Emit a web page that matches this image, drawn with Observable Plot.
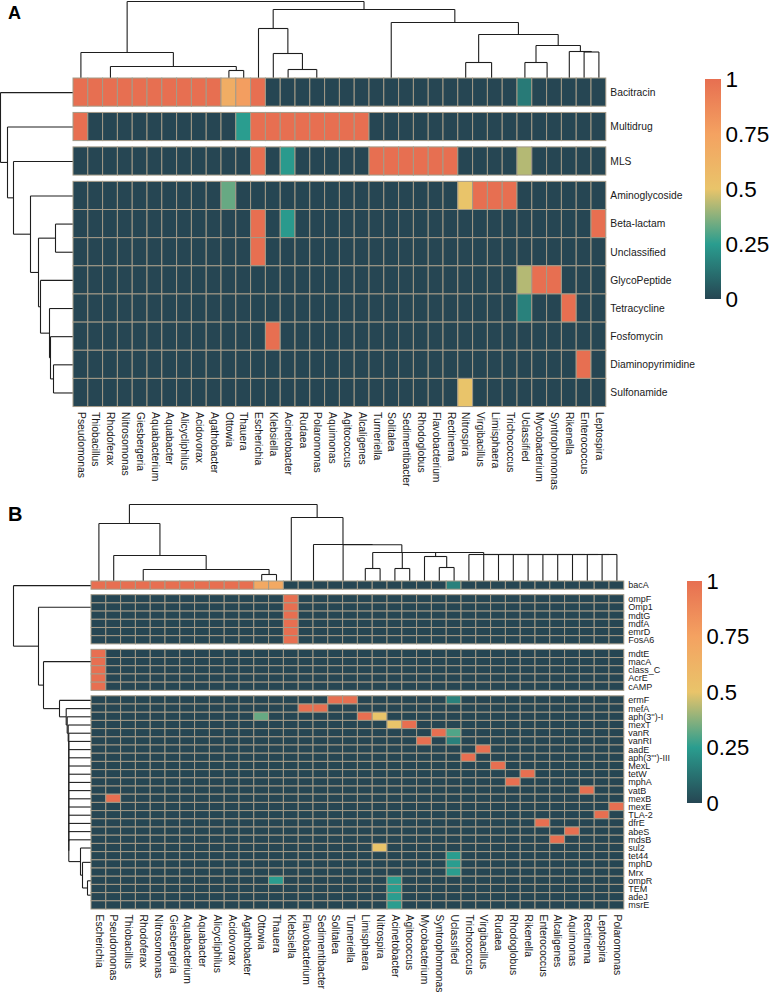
<!DOCTYPE html>
<html><head><meta charset="utf-8">
<script src="https://cdn.jsdelivr.net/npm/d3@7"></script>
<script src="https://cdn.jsdelivr.net/npm/@observablehq/plot@0.6"></script>
<style>
html,body{margin:0;padding:0;background:#fff;}
#fig{position:relative;width:769px;height:993px;overflow:hidden;font-family:"Liberation Sans",Arial,sans-serif;}
#fig svg{position:absolute;left:0;overflow:visible;}
.tag{position:absolute;left:8px;font-weight:bold;line-height:1;font-family:"Liberation Sans",Arial,sans-serif;}
</style></head><body>
<div id="fig"><div class="tag" style="top:4px;font-size:18px">A</div><div class="tag" style="top:504px;font-size:20px">B</div></div>
<script>
// ---------------- DATA: panel A ----------------
const colsA = ["Pseudomonas","Thiobacillus","Rhodoferax","Nitrosomonas","Giesbergeria","Aquabacterium","Aquabacter","Alicycliphilus","Acidovorax","Agathobacter","Ottowia","Thauera","Escherichia","Klebsiella","Acinetobacter","Rudaea","Polaromonas","Aquimonas","Agitococcus","Alcaligenes","Turneriella","Solitalea","Sedimentibacter","Rhodoglobus","Flavobacterium","Rectinema","Nitrospira","Virgibacillus","Limisphaera","Trichococcus","Uclassified","Mycobacterium","Syntrophomonas","Rikenella","Enterococcus","Leptospira"];
const rowsA = ["Bacitracin","Multidrug","MLS","Aminoglycoside","Beta-lactam","Unclassified","GlycoPeptide","Tetracycline","Fosfomycin","Diaminopyrimidine","Sulfonamide"];
const rowGroupSizesA = [1,1,1,8];
// [row, columns, value]; every other cell is 0
const hitsA = [
  ["Bacitracin", ["Pseudomonas","Thiobacillus","Rhodoferax","Nitrosomonas","Giesbergeria","Aquabacterium","Aquabacter","Alicycliphilus","Acidovorax","Agathobacter","Escherichia"], 1],
  ["Bacitracin", ["Ottowia"], 0.67],
  ["Bacitracin", ["Thauera"], 0.77],
  ["Bacitracin", ["Uclassified"], 0.15],
  ["Multidrug", ["Pseudomonas","Escherichia","Klebsiella","Acinetobacter","Rudaea","Polaromonas","Aquimonas","Agitococcus","Alcaligenes"], 1],
  ["Multidrug", ["Thauera"], 0.25],
  ["MLS", ["Escherichia","Turneriella","Solitalea","Sedimentibacter","Rhodoglobus","Flavobacterium","Rectinema"], 1],
  ["MLS", ["Acinetobacter"], 0.24],
  ["MLS", ["Uclassified"], 0.43],
  ["Aminoglycoside", ["Virgibacillus","Limisphaera","Trichococcus"], 1],
  ["Aminoglycoside", ["Ottowia"], 0.33],
  ["Aminoglycoside", ["Nitrospira"], 0.5],
  ["Beta-lactam", ["Escherichia","Leptospira"], 1],
  ["Beta-lactam", ["Acinetobacter"], 0.24],
  ["Unclassified", ["Escherichia"], 1],
  ["GlycoPeptide", ["Mycobacterium","Syntrophomonas"], 1],
  ["GlycoPeptide", ["Uclassified"], 0.43],
  ["Tetracycline", ["Rikenella"], 1],
  ["Tetracycline", ["Uclassified"], 0.17],
  ["Fosfomycin", ["Klebsiella"], 1],
  ["Diaminopyrimidine", ["Enterococcus"], 1],
  ["Sulfonamide", ["Nitrospira"], 0.5]
];
// dendrograms: [height, left, right]; leaves are names
const nest = (h, ...items) => items.reduceRight((acc, it) => [h, it, acc]);
const colTreeA = [77,
  [26, "Pseudomonas", [12, nest(0,"Thiobacillus","Rhodoferax","Nitrosomonas","Giesbergeria","Aquabacterium","Aquabacter","Alicycliphilus","Acidovorax","Agathobacter"), [8, "Ottowia", "Thauera"]]],
  [69,
    [50, "Escherichia", [25, "Klebsiella", [9, "Acinetobacter", nest(0,"Rudaea","Polaromonas","Aquimonas","Agitococcus","Alcaligenes")]]],
    [56, nest(0,"Turneriella","Solitalea","Sedimentibacter","Rhodoglobus","Flavobacterium","Rectinema"),
      [44, [16, "Nitrospira", nest(0,"Virgibacillus","Limisphaera","Trichococcus")],
           [33, [16, "Uclassified", nest(0,"Mycobacterium","Syntrophomonas")],
                [27, "Rikenella", [26.5, "Enterococcus", "Leptospira"]]]]]]];
const rowTreeA = [73, "Bacitracin", [66, "Multidrug", [60, "MLS", [43, "Aminoglycoside",
  [35, [18, "Beta-lactam", "Unclassified"], [33, "GlycoPeptide", [24, "Tetracycline", [23, "Fosfomycin", [20, "Diaminopyrimidine", "Sulfonamide"]]]]]]]]];

// ---------------- DATA: panel B ----------------
const colsB = ["Escherichia","Pseudomonas","Thiobacillus","Rhodoferax","Nitrosomonas","Giesbergeria","Aquabacterium","Aquabacter","Alicycliphilus","Acidovorax","Agathobacter","Ottowia","Thauera","Klebsiella","Flavobacterium","Sedimentibacter","Solitalea","Turneriella","Limisphaera","Nitrospira","Acinetobacter","Agitococcus","Mycobacterium","Syntrophomonas","Uclassified","Trichococcus","Virgibacillus","Rudaea","Rhodoglobus","Rikenella","Enterococcus","Alcaligenes","Aquimonas","Rectinema","Leptospira","Polaromonas"];
const rowsB = ["bacA","ompF","Omp1","mdtG","mdfA","emrD","FosA6","mdtE","macA","class_C","AcrE","cAMP","ermF","mefA","aph(3'')-I","mexT","vanR","vanRI","aadE","aph(3''')-III","MexL","tetW","mphA","vatB","mexB","mexE","TLA-2","dfrE","abeS","mdsB","sul2","tet44","mphD","Mrx","ompR","TEM","adeJ","msrE"];
const rowGroupSizesB = [1,6,5,26];
const hitsB = [
  ["bacA", ["Escherichia","Pseudomonas","Thiobacillus","Rhodoferax","Nitrosomonas","Giesbergeria","Aquabacterium","Aquabacter","Alicycliphilus","Acidovorax","Agathobacter"], 1],
  ["bacA", ["Ottowia","Thauera"], 0.7],
  ["bacA", ["Uclassified"], 0.17],
  ["ompF", ["Klebsiella"], 1], ["Omp1", ["Klebsiella"], 1], ["mdtG", ["Klebsiella"], 1],
  ["mdfA", ["Klebsiella"], 1], ["emrD", ["Klebsiella"], 1], ["FosA6", ["Klebsiella"], 1],
  ["mdtE", ["Escherichia"], 1], ["macA", ["Escherichia"], 1], ["class_C", ["Escherichia"], 1],
  ["AcrE", ["Escherichia"], 1], ["cAMP", ["Escherichia"], 1],
  ["ermF", ["Solitalea","Turneriella"], 1], ["ermF", ["Uclassified"], 0.17],
  ["mefA", ["Flavobacterium","Sedimentibacter"], 1],
  ["aph(3'')-I", ["Ottowia"], 0.33], ["aph(3'')-I", ["Limisphaera"], 1], ["aph(3'')-I", ["Nitrospira"], 0.5],
  ["mexT", ["Acinetobacter"], 0.5], ["mexT", ["Agitococcus"], 1],
  ["vanR", ["Syntrophomonas"], 1], ["vanR", ["Uclassified"], 0.3],
  ["vanRI", ["Mycobacterium"], 1], ["vanRI", ["Uclassified"], 0.17],
  ["aadE", ["Virgibacillus"], 1],
  ["aph(3''')-III", ["Trichococcus"], 1],
  ["MexL", ["Rudaea"], 1],
  ["tetW", ["Rikenella"], 1],
  ["mphA", ["Rhodoglobus"], 1],
  ["vatB", ["Rectinema"], 1],
  ["mexB", ["Pseudomonas"], 1],
  ["mexE", ["Polaromonas"], 1],
  ["TLA-2", ["Leptospira"], 1],
  ["dfrE", ["Enterococcus"], 1],
  ["abeS", ["Aquimonas"], 1],
  ["mdsB", ["Alcaligenes"], 1],
  ["sul2", ["Nitrospira"], 0.5],
  ["tet44", ["Uclassified"], 0.25], ["mphD", ["Uclassified"], 0.25], ["Mrx", ["Uclassified"], 0.25],
  ["ompR", ["Thauera","Acinetobacter"], 0.25],
  ["TEM", ["Acinetobacter"], 0.25], ["adeJ", ["Acinetobacter"], 0.25], ["msrE", ["Acinetobacter"], 0.25]
];
const colTreeB = [77,
  [58, "Escherichia", [26, "Pseudomonas", [12, nest(0,"Thiobacillus","Rhodoferax","Nitrosomonas","Giesbergeria","Aquabacterium","Aquabacter","Alicycliphilus","Acidovorax","Agathobacter"), [7, "Ottowia", "Thauera"]]]],
  [64, "Klebsiella", [37, nest(0,"Flavobacterium","Sedimentibacter"),
    [36.8, nest(0,"Solitalea","Turneriella"),
      nest(29, [13, "Limisphaera", "Nitrospira"], [13, "Acinetobacter", "Agitococcus"],
        [25, "Mycobacterium", [14, "Syntrophomonas", "Uclassified"]],
        nest(27, "Trichococcus","Virgibacillus","Rudaea","Rhodoglobus","Rikenella","Enterococcus","Alcaligenes","Aquimonas","Rectinema","Leptospira","Polaromonas"))]]]];
const rowTreeB = [78, "bacA", [53, nest(0,"ompF","Omp1","mdtG","mdfA","emrD","FosA6"),
  [48, nest(0,"mdtE","macA","class_C","AcrE","cAMP"),
    [32, "ermF", [25.3, "mefA", [24.3, "aph(3'')-I", [23.3, "mexT",
      nest(22.7, "vanR","vanRI","aadE","aph(3''')-III","MexL","tetW","mphA","vatB","mexB","mexE","TLA-2","dfrE","abeS","mdsB",
        [11, "sul2", [9, nest(0,"tet44","mphD","Mrx"), [4, "ompR", nest(0,"TEM","adeJ","msrE")]]])]]]]]]];

const legendTicks = [0, 0.25, 0.5, 0.75, 1];
const palette = ["#264653", "#2a9d8f", "#e9c46a", "#f4a261", "#e76f51"];

// ---------------- drawing ----------------
const FONT = "Liberation Sans, Arial, Helvetica, sans-serif";
function dendroSegments(tree, leafPos) {
  const out = [];
  (function walk(n) {
    if (typeof n === "string") return {p: leafPos(n), h: 0};
    const [h, a, b] = n;
    const A = walk(a), B = walk(b);
    if (h > A.h) out.push({p1: A.p, h1: A.h, p2: A.p, h2: h});
    if (h > 0) out.push({p1: A.p, h1: h, p2: B.p, h2: h});
    if (h > B.h) out.push({p1: B.p, h1: B.h, p2: B.p, h2: h});
    return {p: (A.p + B.p) / 2, h};
  })(tree);
  return out;
}

function panel(cfg) {
  const {id, cols, rows, groupSizes, hits, colTree, rowTree, H, x0, y0, cellW, rowH, gap,
         rowFont, colFont, leg} = cfg;
  const nC = cols.length;
  const groupOf = groupSizes.flatMap((n, g) => Array(n).fill(g));
  const gapU = gap / rowH;
  const rowTop = rows.map((r, i) => i + groupOf[i] * gapU);
  const totalU = rows.length + (groupSizes.length - 1) * gapU;
  const val = new Map();
  hits.forEach(([r, cs, v]) => cs.forEach(c => val.set(r + "|" + c, v)));
  const grid = rows.flatMap((r, i) => cols.map((c, j) => ({i, j, v: val.get(r + "|" + c) ?? 0})));
  const ux = px => (px - x0) / cellW;     // px -> column units
  const uy = py => (py - y0) / rowH;      // px -> row units
  const colSegs = dendroSegments(colTree, n => cols.indexOf(n) + 0.5);
  const rowSegs = dendroSegments(rowTree, n => rowTop[rows.indexOf(n)] + 0.5);
  const colScaleH = 1 / rowH, rowScaleH = 1 / cellW;
  const lx1 = ux(leg.x), lx2 = ux(leg.x + leg.w);
  const ly = v => uy(leg.y + (1 - v) * leg.h);
  const svg = Plot.plot({
    width: 769, height: H,
    style: {fontFamily: FONT, background: "transparent"},
    x: {domain: [0, nC], range: [x0, x0 + nC * cellW], axis: null},
    y: {domain: [0, totalU], range: [y0, y0 + totalU * rowH], axis: null},
    color: {type: "linear", domain: legendTicks, range: palette},
    marks: [
      Plot.link(colSegs, {x1: "p1", x2: "p2", y1: d => -d.h1 * colScaleH, y2: d => -d.h2 * colScaleH,
        stroke: "#1e1e1e", strokeWidth: 1.1}),
      Plot.link(rowSegs, {y1: "p1", y2: "p2", x1: d => -d.h1 * rowScaleH, x2: d => -d.h2 * rowScaleH,
        stroke: "#1e1e1e", strokeWidth: 1.1}),
      Plot.rect(grid, {x1: d => d.j, x2: d => d.j + 1, y1: d => rowTop[d.i], y2: d => rowTop[d.i] + 1,
        fill: "v", stroke: "#a49b88", strokeWidth: 1}),
      Plot.text(rows, {x: ux(x0 + nC * cellW + 4), y: (d, i) => rowTop[i] + 0.5, text: d => d,
        textAnchor: "start", fontSize: rowFont, fill: "#1a1a1a", fontFamily: FONT}),
      Plot.text(cols, {x: (d, i) => i + 0.5, y: totalU + 5 / rowH, text: d => d, rotate: 90,
        textAnchor: "start", fontSize: colFont, fill: "#1a1a1a", fontFamily: FONT}),
      Plot.rect([legendTicks], {x1: lx1, x2: lx2, y1: ly(1), y2: ly(0), fill: `url(#grad${id})`}),
      Plot.text(legendTicks, {x: ux(leg.x + leg.w + 4), y: v => ly(v), text: v => String(v),
        textAnchor: "start", fontSize: leg.font, fill: "#000", fontFamily: FONT})
    ]
  });
  const grad = d3.select(svg).insert("defs", ":first-child").append("linearGradient")
    .attr("id", `grad${id}`).attr("x1", 0).attr("y1", 1).attr("x2", 0).attr("y2", 0);
  grad.selectAll("stop").data(legendTicks).join("stop")
    .attr("offset", d => d).attr("stop-color", (d, i) => palette[i]);
  return svg;
}

const fig = document.getElementById("fig");
const svgA = panel({id: "A", cols: colsA, rows: rowsA, groupSizes: rowGroupSizesA, hits: hitsA,
  colTree: colTreeA, rowTree: rowTreeA, H: 490, x0: 73, y0: 78, cellW: 14.8, rowH: 28.15, gap: 6.3,
  rowFont: 10.3, colFont: 10.3, leg: {x: 705, y: 79, w: 16, h: 220, font: 22.5}});
svgA.style.top = "0px";
fig.appendChild(svgA);
const svgB = panel({id: "B", cols: colsB, rows: rowsB, groupSizes: rowGroupSizesB, hits: hitsB,
  colTree: colTreeB, rowTree: rowTreeB, H: 503, x0: 91, y0: 91, cellW: 14.8, rowH: 8.2, gap: 5.47,
  rowFont: 9, colFont: 10.3, leg: {x: 687, y: 91, w: 15, h: 222, font: 22}});
svgB.style.top = "490px";
fig.appendChild(svgB);
</script></body></html>
